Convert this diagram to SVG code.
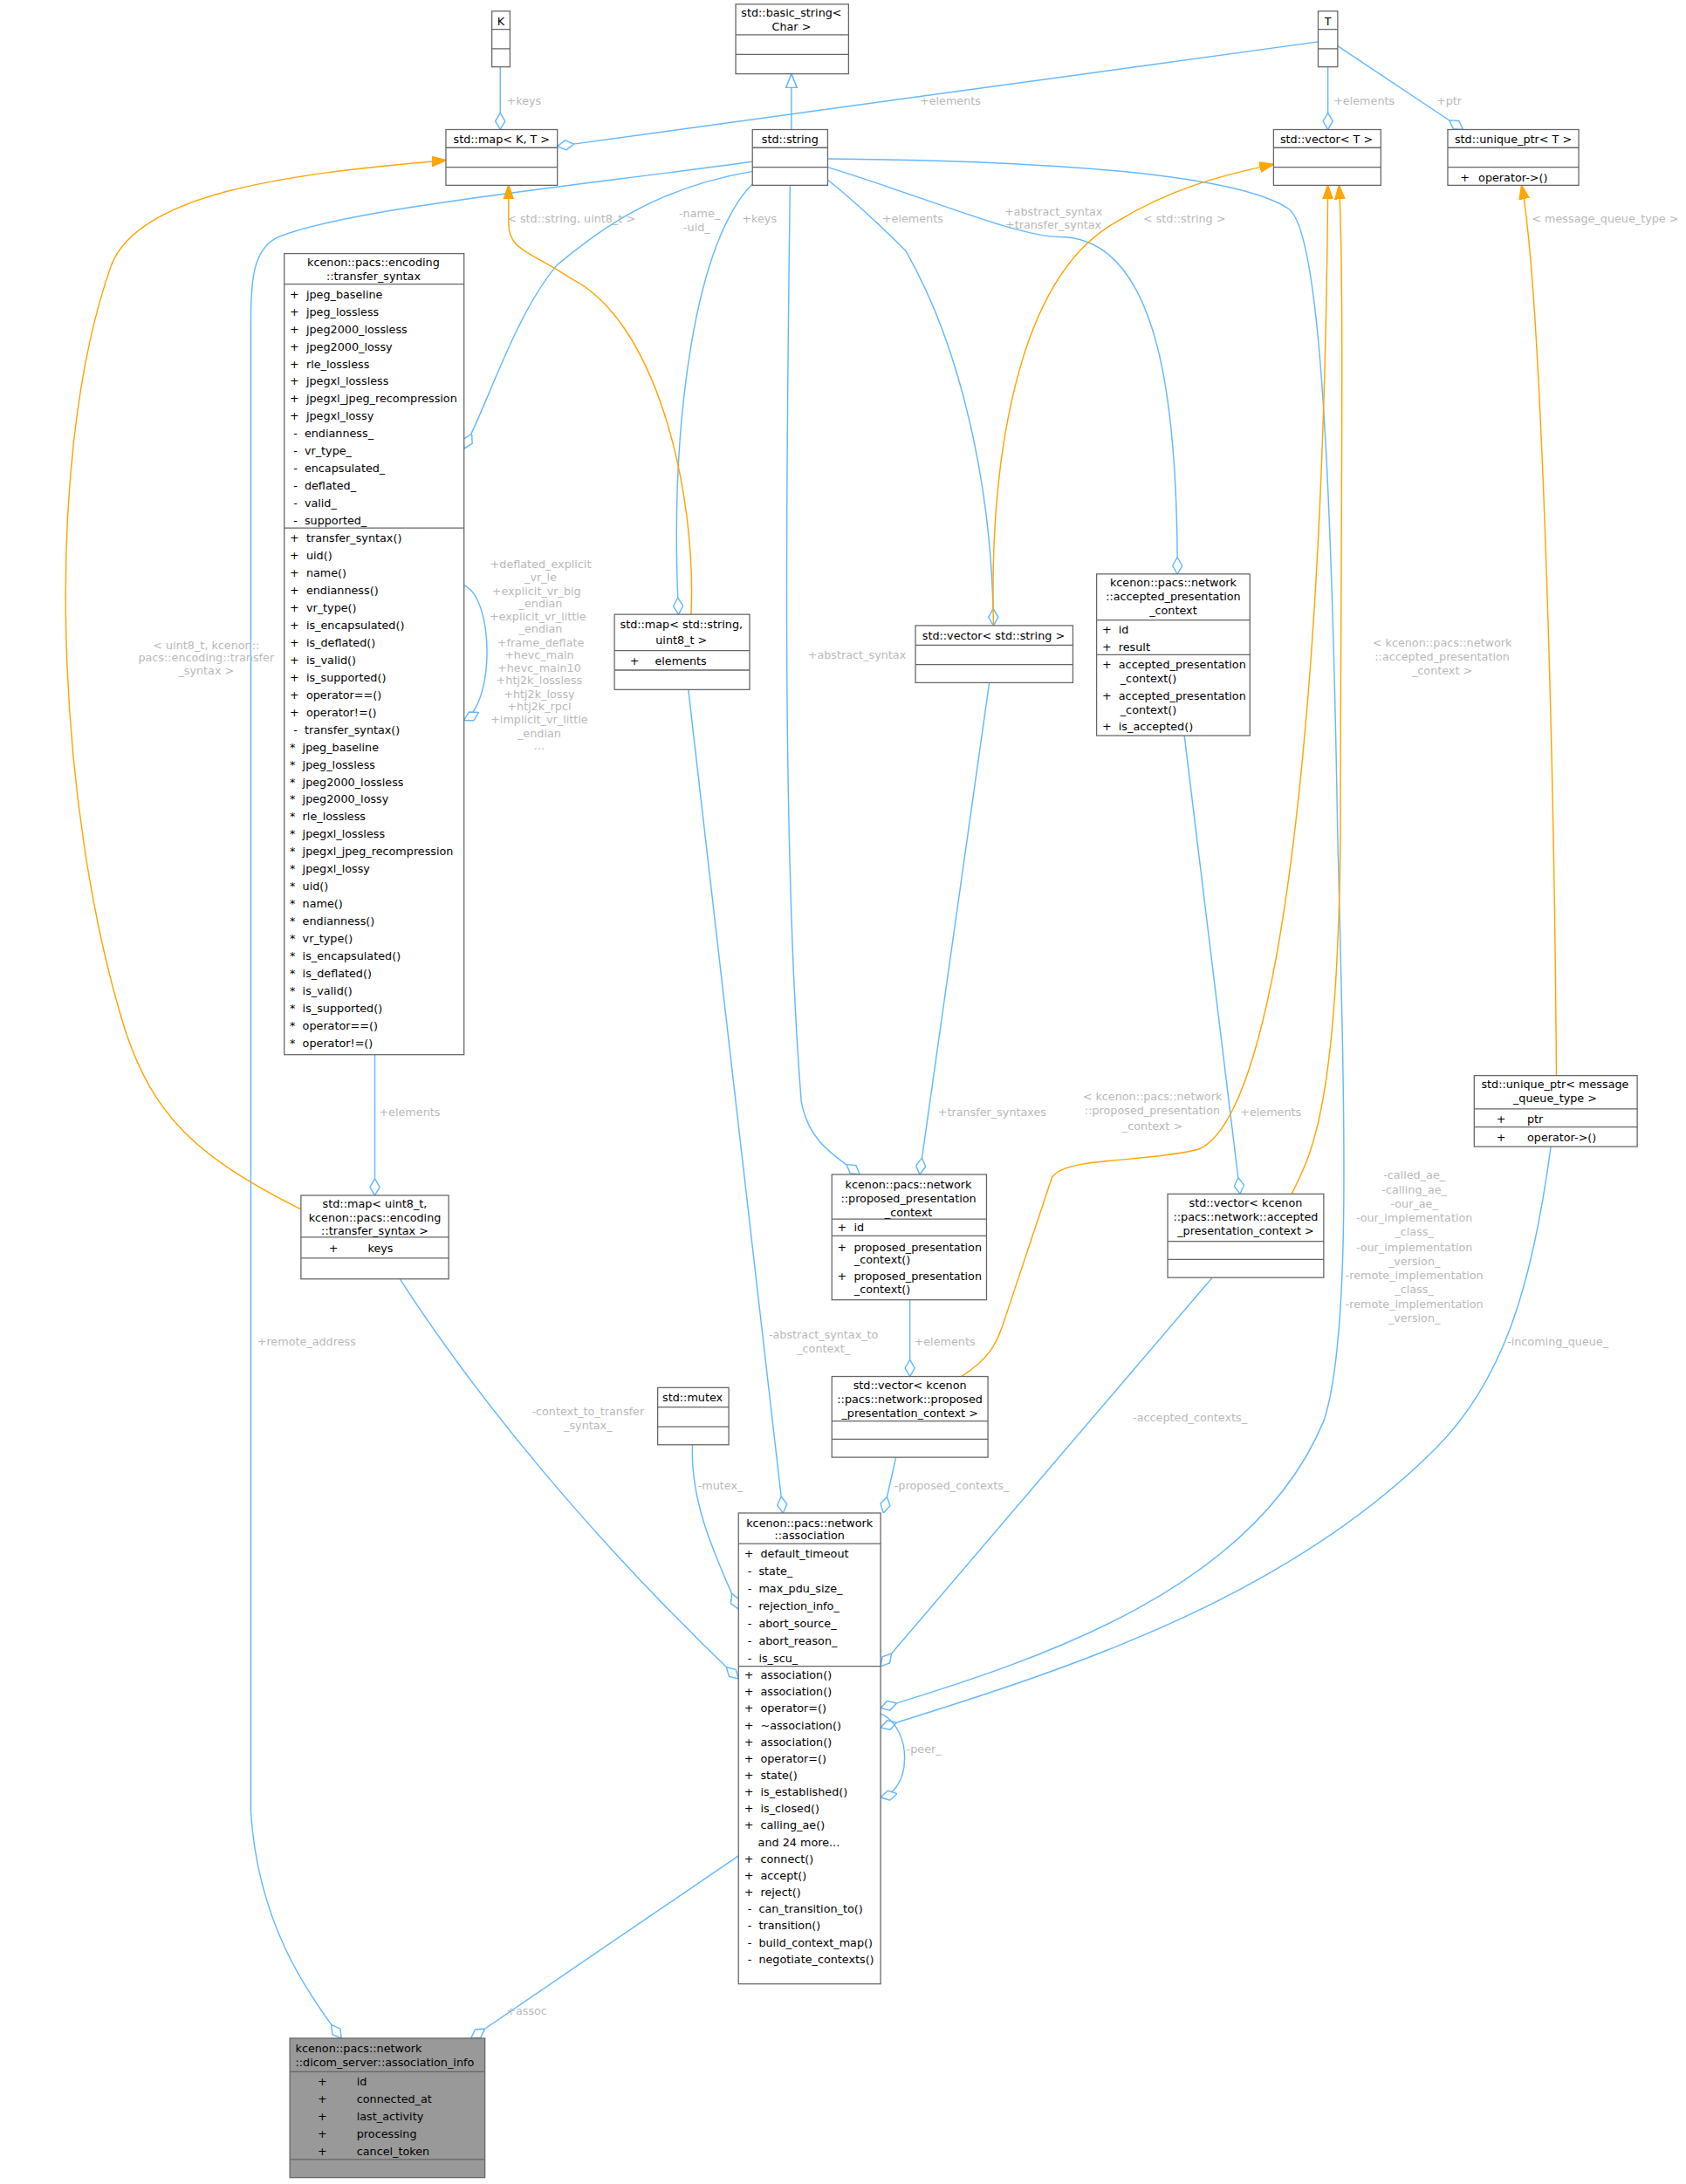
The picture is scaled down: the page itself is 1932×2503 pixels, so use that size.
<svg xmlns="http://www.w3.org/2000/svg" width="1932" height="2503" viewBox="0 0 1932 2503" xml:space="preserve">
<style>
.b{fill:#fff;stroke:#666;stroke-width:0.8}
.g{fill:#999;stroke:#666;stroke-width:0.8}
.s{stroke:#666;stroke-width:0.8;fill:none}
.t{font-family:"DejaVu Sans",sans-serif;font-size:8px;fill:#000;white-space:pre}
.t text{white-space:pre}
.c{text-anchor:middle}
.l{font-family:"DejaVu Sans",sans-serif;font-size:8px;fill:#b8b8b8;text-anchor:middle}
.e{fill:none;stroke:#63b8ff;stroke-width:0.9}
.o{fill:none;stroke:#ffa500;stroke-width:0.9}
</style>
<defs>
<marker id="d" viewBox="0 0 12 8" refX="12" refY="4" markerWidth="12" markerHeight="8" orient="auto" markerUnits="userSpaceOnUse"><path d="M0,4 L6,0.5 L12,4 L6,7.5 Z" fill="#fff" stroke="#63b8ff" stroke-width="0.9"/></marker>
<marker id="a" viewBox="0 0 10 8" refX="10" refY="4" markerWidth="10" markerHeight="8" orient="auto" markerUnits="userSpaceOnUse"><path d="M0,0.5 L10,4 L0,7.5 Z" fill="#ffa500" stroke="#ffa500"/></marker>
<marker id="i" viewBox="0 0 10 10" refX="10" refY="5" markerWidth="10" markerHeight="10" orient="auto" markerUnits="userSpaceOnUse"><path d="M0,1 L10,5 L0,9 Z" fill="#fff" stroke="#63b8ff"/></marker>
</defs>
<rect width="1932" height="2503" fill="#fff"/>
<g transform="scale(1.5967)">
<g id="edges">
<path class="e" d="M359,48 L359,93" marker-end="url(#d)"/>
<text class="l" x="376" y="75">+keys</text>
<path class="e" d="M946,30 L400,105" marker-end="url(#d)"/>
<text class="l" x="682" y="75">+elements</text>
<path class="e" d="M953,48 L953,93" marker-end="url(#d)"/>
<text class="l" x="979" y="75">+elements</text>
<path class="e" d="M960,33 L1050,93" marker-end="url(#d)"/>
<text class="l" x="1040" y="75">+ptr</text>
<path class="e" d="M568,93 L568,53" marker-end="url(#i)"/>
<path class="e" d="M540,123 C470,135 430,165 400,190 C370,225 350,290 333,322" marker-end="url(#d)"/>
<text class="l" x="502" y="156">-name_</text><text class="l" x="500" y="166">-uid_</text>
<path class="e" d="M541,131 C500,170 480,300 487,441" marker-end="url(#d)"/>
<text class="l" x="545" y="160">+keys</text>
<path class="e" d="M594,129 C620,150 640,170 650,180 C690,250 712,350 713,449" marker-end="url(#d)"/>
<text class="l" x="655" y="160">+elements</text>
<path class="e" d="M594,120 C660,140 730,170 760,170 C835,170 845,300 845,412" marker-end="url(#d)"/>
<text class="l" x="756" y="155">+abstract_syntax</text><text class="l" x="756" y="164">+transfer_syntax</text>
<path class="e" d="M567,133 C565,300 560,600 575,790 C580,820 600,830 617,843" marker-end="url(#d)"/>
<text class="l" x="615" y="473">+abstract_syntax</text>
<path class="e" d="M540,116 C400,135 250,150 200,170 C182,178 180,200 180,230 L180,1300 C185,1380 220,1430 245,1463" marker-end="url(#d)"/>
<text class="l" x="220" y="966">+remote_address</text>
<path class="e" d="M594,114 C700,115 880,120 925,150 C945,165 955,300 960,600 C965,800 970,960 950,1020 C900,1140 750,1190 632,1226" marker-end="url(#d)"/>
<text class="l" x="1015" y="846">-called_ae_</text><text class="l" x="1015" y="857">-calling_ae_</text><text class="l" x="1015" y="867">-our_ae_</text><text class="l" x="1015" y="877">-our_implementation</text><text class="l" x="1015" y="887">_class_</text><text class="l" x="1015" y="898">-our_implementation</text><text class="l" x="1015" y="908">_version_</text><text class="l" x="1015" y="918">-remote_implementation</text><text class="l" x="1015" y="928">_class_</text><text class="l" x="1015" y="939">-remote_implementation</text><text class="l" x="1015" y="949">_version_</text>
<path class="e" d="M333,420 C355,430 355,505 333,517" marker-end="url(#d)"/>
<text class="l" x="388" y="408">+deflated_explicit</text><text class="l" x="388" y="417">_vr_le</text><text class="l" x="385" y="427">+explicit_vr_big</text><text class="l" x="388" y="436">_endian</text><text class="l" x="386" y="445">+explicit_vr_little</text><text class="l" x="388" y="454">_endian</text><text class="l" x="388" y="464">+frame_deflate</text><text class="l" x="387" y="473">+hevc_main</text><text class="l" x="387" y="482">+hevc_main10</text><text class="l" x="387" y="491">+htj2k_lossless</text><text class="l" x="387" y="501">+htj2k_lossy</text><text class="l" x="387" y="510">+htj2k_rpcl</text><text class="l" x="387" y="519">+implicit_vr_little</text><text class="l" x="387" y="529">_endian</text><text class="l" x="387" y="538">...</text>
<path class="e" d="M269,757 L269,858" marker-end="url(#d)"/>
<text class="l" x="294" y="801">+elements</text>
<path class="e" d="M494,495 L562,1086" marker-end="url(#d)"/>
<text class="l" x="591" y="961">-abstract_syntax_to</text><text class="l" x="591" y="971">_context_</text>
<path class="e" d="M710,490 L660,843" marker-end="url(#d)"/>
<text class="l" x="712" y="801">+transfer_syntaxes</text>
<path class="e" d="M850,528 L890,857" marker-end="url(#d)"/>
<text class="l" x="912" y="801">+elements</text>
<path class="e" d="M653,933 L653,988" marker-end="url(#d)"/>
<text class="l" x="678" y="966">+elements</text>
<path class="e" d="M287,918 C340,1000 420,1100 530,1205" marker-end="url(#d)"/>
<text class="l" x="422" y="1016">-context_to_transfer</text><text class="l" x="422" y="1026">_syntax_</text>
<path class="e" d="M497,1037 C495,1080 515,1120 530,1155" marker-end="url(#d)"/>
<text class="l" x="517" y="1069">-mutex_</text>
<path class="e" d="M643,1046 L634,1086" marker-end="url(#d)"/>
<text class="l" x="683" y="1069">-proposed_contexts_</text>
<path class="e" d="M870,917 L632,1196" marker-end="url(#d)"/>
<text class="l" x="854" y="1020">-accepted_contexts_</text>
<path class="e" d="M1113,823 C1100,920 1080,990 1030,1040 C920,1150 760,1200 632,1240" marker-end="url(#d)"/>
<text class="l" x="1118" y="966">-incoming_queue_</text>
<path class="e" d="M632,1230 C655,1240 655,1285 632,1290" marker-end="url(#d)"/>
<text class="l" x="663" y="1258">-peer_</text>
<path class="e" d="M530,1332 L338,1463" marker-end="url(#d)"/>
<text class="l" x="378" y="1446">+assoc</text>
<path class="o" d="M216,868 C140,830 110,800 90,740 C40,580 30,330 80,190 C100,140 200,125 320,115" marker-end="url(#a)"/>
<text class="l" x="148" y="466">&lt; uint8_t, kcenon::</text><text class="l" x="148" y="475">pacs::encoding::transfer</text><text class="l" x="148" y="484">_syntax &gt;</text>
<path class="o" d="M496,441 C500,350 470,230 410,200 C380,180 365,180 365,160 L365,133" marker-end="url(#a)"/>
<text class="l" x="410" y="160">&lt; std::string, uint8_t &gt;</text>
<path class="o" d="M713,449 C710,330 730,200 800,160 C840,135 880,125 914,118" marker-end="url(#a)"/>
<text class="l" x="850" y="160">&lt; std::string &gt;</text>
<path class="o" d="M690,988 C710,975 715,965 720,950 L755,845 C765,830 820,835 860,825 C920,800 950,500 953,133" marker-end="url(#a)"/>
<text class="l" x="827" y="790">&lt; kcenon::pacs::network</text><text class="l" x="827" y="800">::proposed_presentation</text><text class="l" x="827" y="811">_context &gt;</text>
<path class="o" d="M927,857 C940,830 960,800 962,600 C962,400 965,200 961,133" marker-end="url(#a)"/>
<text class="l" x="1035" y="464">&lt; kcenon::pacs::network</text><text class="l" x="1035" y="474">::accepted_presentation</text><text class="l" x="1035" y="484">_context &gt;</text>
<path class="o" d="M1117,772 C1115,500 1105,200 1092,133" marker-end="url(#a)"/>
<text class="l" x="1152" y="160">&lt; message_queue_type &gt;</text>
</g>
<g id="K"><rect class="b" x="353" y="8" width="13" height="40"/><path class="s" d="M353,21H366M353,35H366"/><text class="t c" x="359.5" y="18">K</text></g>
<g id="basic_string"><rect class="b" x="528" y="3" width="81" height="50"/><path class="s" d="M528,25H609M528,39H609"/><text class="t c" x="568" y="12">std::basic_string&lt;</text><text class="t c" x="568" y="22">Char &gt;</text></g>
<g id="map_KT"><rect class="b" x="320" y="93" width="80" height="40"/><path class="s" d="M320,106H400M320,120H400"/><text class="t c" x="360" y="103">std::map&lt; K, T &gt;</text></g>
<g id="string"><rect class="b" x="540" y="93" width="54" height="40"/><path class="s" d="M540,106H594M540,120H594"/><text class="t c" x="567" y="103">std::string</text></g>
<g id="T"><rect class="b" x="946" y="8" width="14" height="40"/><path class="s" d="M946,21H960M946,35H960"/><text class="t c" x="953" y="18">T</text></g>
<g id="vector_T"><rect class="b" x="914" y="93" width="77" height="40"/><path class="s" d="M914,106H991M914,120H991"/><text class="t c" x="952" y="103">std::vector&lt; T &gt;</text></g>
<g id="unique_ptr_T"><rect class="b" x="1039" y="93" width="94" height="40"/><path class="s" d="M1039,106H1133M1039,120H1133"/><text class="t" x="1048" y="130">+</text><text class="t" x="1061" y="130">operator-&gt;()</text><text class="t c" x="1086" y="103">std::unique_ptr&lt; T &gt;</text></g>
<g id="transfer_syntax"><rect class="b" x="204" y="182" width="129" height="575"/><path class="s" d="M204,204H333M204,379H333"/>
<text class="t c" x="268" y="191">kcenon::pacs::encoding</text><text class="t c" x="268" y="201">::transfer_syntax</text>
<g class="t">
<text x="208" y="214">+  jpeg_baseline</text><text x="208" y="226.5">+  jpeg_lossless</text><text x="208" y="239">+  jpeg2000_lossless</text><text x="208" y="251.5">+  jpeg2000_lossy</text><text x="208" y="264">+  rle_lossless</text><text x="208" y="276.5">+  jpegxl_lossless</text><text x="208" y="289">+  jpegxl_jpeg_recompression</text><text x="208" y="301.5">+  jpegxl_lossy</text><text x="208" y="314"> -  endianness_</text><text x="208" y="326.5"> -  vr_type_</text><text x="208" y="339"> -  encapsulated_</text><text x="208" y="351.5"> -  deflated_</text><text x="208" y="364"> -  valid_</text><text x="208" y="376.5"> -  supported_</text>
<text x="208" y="389">+  transfer_syntax()</text><text x="208" y="401.5">+  uid()</text><text x="208" y="414">+  name()</text><text x="208" y="426.5">+  endianness()</text><text x="208" y="439">+  vr_type()</text><text x="208" y="451.5">+  is_encapsulated()</text><text x="208" y="464">+  is_deflated()</text><text x="208" y="476.5">+  is_valid()</text><text x="208" y="489">+  is_supported()</text><text x="208" y="501.5">+  operator==()</text><text x="208" y="514">+  operator!=()</text><text x="208" y="526.5"> -  transfer_syntax()</text><text x="208" y="539">*  jpeg_baseline</text><text x="208" y="551.5">*  jpeg_lossless</text><text x="208" y="564">*  jpeg2000_lossless</text><text x="208" y="576.5">*  jpeg2000_lossy</text><text x="208" y="589">*  rle_lossless</text><text x="208" y="601.5">*  jpegxl_lossless</text><text x="208" y="614">*  jpegxl_jpeg_recompression</text><text x="208" y="626.5">*  jpegxl_lossy</text><text x="208" y="639">*  uid()</text><text x="208" y="651.5">*  name()</text><text x="208" y="664">*  endianness()</text><text x="208" y="676.5">*  vr_type()</text><text x="208" y="689">*  is_encapsulated()</text><text x="208" y="701.5">*  is_deflated()</text><text x="208" y="714">*  is_valid()</text><text x="208" y="726.5">*  is_supported()</text><text x="208" y="739">*  operator==()</text><text x="208" y="751.5">*  operator!=()</text>
</g></g>
<g id="map_string_uint8"><rect class="b" x="441" y="441" width="97" height="54"/><path class="s" d="M441,467H538M441,481H538"/><text class="t c" x="489" y="451">std::map&lt; std::string,</text><text class="t c" x="489" y="462">uint8_t &gt;</text><text class="t" x="452" y="477">+</text><text class="t" x="470" y="477">elements</text></g>
<g id="vector_string"><rect class="b" x="657" y="449" width="113" height="41"/><path class="s" d="M657,463H770M657,477H770"/><text class="t c" x="713" y="459">std::vector&lt; std::string &gt;</text></g>
<g id="accepted_pc"><rect class="b" x="787" y="412" width="110" height="116"/><path class="s" d="M787,445H897M787,470H897"/><text class="t c" x="842" y="421">kcenon::pacs::network</text><text class="t c" x="842" y="431">::accepted_presentation</text><text class="t c" x="842" y="441">_context</text><text class="t" x="791" y="455">+  id</text><text class="t" x="791" y="467">+  result</text><text class="t" x="791" y="480">+  accepted_presentation</text><text class="t" x="804" y="490">_context()</text><text class="t" x="791" y="502">+  accepted_presentation</text><text class="t" x="804" y="512">_context()</text><text class="t" x="791" y="524">+  is_accepted()</text></g>
<g id="map_uint8_ts"><rect class="b" x="216" y="858" width="106" height="60"/><path class="s" d="M216,888H322M216,903H322"/><text class="t c" x="269" y="867">std::map&lt; uint8_t,</text><text class="t c" x="269" y="877">kcenon::pacs::encoding</text><text class="t c" x="269" y="886">::transfer_syntax &gt;</text><text class="t" x="236" y="899">+</text><text class="t" x="264" y="899">keys</text></g>
<g id="proposed_pc"><rect class="b" x="597" y="843" width="111" height="90"/><path class="s" d="M597,875H708M597,887H708"/><text class="t c" x="652" y="853">kcenon::pacs::network</text><text class="t c" x="652" y="863">::proposed_presentation</text><text class="t c" x="652" y="873">_context</text><text class="t" x="601" y="884">+  id</text><text class="t" x="601" y="898">+  proposed_presentation</text><text class="t" x="613" y="907">_context()</text><text class="t" x="601" y="919">+  proposed_presentation</text><text class="t" x="613" y="928">_context()</text></g>
<g id="vector_proposed"><rect class="b" x="597" y="988" width="112" height="58"/><path class="s" d="M597,1020H709M597,1033H709"/><text class="t c" x="653" y="997">std::vector&lt; kcenon</text><text class="t c" x="653" y="1007">::pacs::network::proposed</text><text class="t c" x="653" y="1017">_presentation_context &gt;</text></g>
<g id="vector_accepted"><rect class="b" x="838" y="857" width="112" height="60"/><path class="s" d="M838,891H950M838,904H950"/><text class="t c" x="894" y="866">std::vector&lt; kcenon</text><text class="t c" x="894" y="876">::pacs::network::accepted</text><text class="t c" x="894" y="886">_presentation_context &gt;</text></g>
<g id="unique_ptr_msg"><rect class="b" x="1058" y="772" width="117" height="51"/><path class="s" d="M1058,796H1175M1058,809H1175"/><text class="t c" x="1116" y="781">std::unique_ptr&lt; message</text><text class="t c" x="1116" y="791">_queue_type &gt;</text><text class="t" x="1074" y="806">+</text><text class="t" x="1096" y="806">ptr</text><text class="t" x="1074" y="819">+</text><text class="t" x="1096" y="819">operator-&gt;()</text></g>
<g id="mutex"><rect class="b" x="472" y="996" width="51" height="41"/><path class="s" d="M472,1010H523M472,1024H523"/><text class="t c" x="497" y="1006">std::mutex</text></g>
<g id="association"><rect class="b" x="530" y="1086" width="102" height="338"/><path class="s" d="M530,1108H632M530,1196H632"/><text class="t c" x="581" y="1096">kcenon::pacs::network</text><text class="t c" x="581" y="1105">::association</text>
<g class="t"><text x="534" y="1118">+  default_timeout</text><text x="534" y="1130.5"> -  state_</text><text x="534" y="1143"> -  max_pdu_size_</text><text x="534" y="1155.5"> -  rejection_info_</text><text x="534" y="1168"> -  abort_source_</text><text x="534" y="1180.5"> -  abort_reason_</text><text x="534" y="1193"> -  is_scu_</text>
<text x="534" y="1205">+  association()</text><text x="534" y="1217">+  association()</text><text x="534" y="1229">+  operator=()</text><text x="534" y="1241">+  ~association()</text><text x="534" y="1253">+  association()</text><text x="534" y="1265">+  operator=()</text><text x="534" y="1277">+  state()</text><text x="534" y="1289">+  is_established()</text><text x="534" y="1301">+  is_closed()</text><text x="534" y="1313">+  calling_ae()</text><text x="544" y="1325">and 24 more...</text><text x="534" y="1337">+  connect()</text><text x="534" y="1349">+  accept()</text><text x="534" y="1361">+  reject()</text><text x="534" y="1373"> -  can_transition_to()</text><text x="534" y="1385"> -  transition()</text><text x="534" y="1397"> -  build_context_map()</text><text x="534" y="1409"> -  negotiate_contexts()</text></g></g>
<g id="association_info"><rect class="g" x="208" y="1463" width="140" height="100"/><path class="s" d="M208,1487H348M208,1550H348"/><text class="t" x="212" y="1473">kcenon::pacs::network</text><text class="t" x="212" y="1483">::dicom_server::association_info</text>
<g class="t"><text x="228" y="1497">+</text><text x="256" y="1497">id</text><text x="228" y="1509.5">+</text><text x="256" y="1509.5">connected_at</text><text x="228" y="1522">+</text><text x="256" y="1522">last_activity</text><text x="228" y="1534.5">+</text><text x="256" y="1534.5">processing</text><text x="228" y="1547">+</text><text x="256" y="1547">cancel_token</text></g></g>
</g>
</svg>
